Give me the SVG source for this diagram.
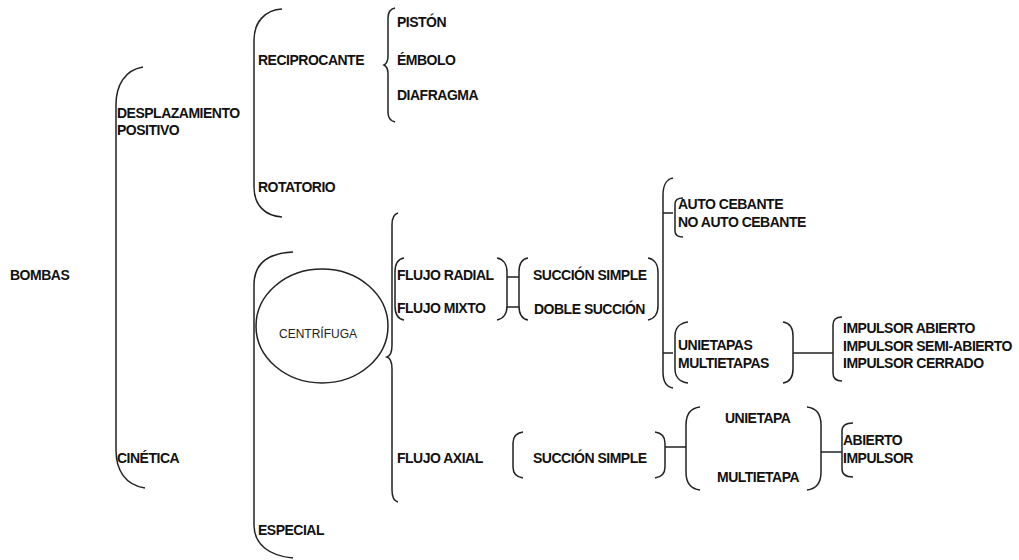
<svg xmlns="http://www.w3.org/2000/svg" width="1019" height="560" viewBox="0 0 1019 560">
<style>
text{font-family:"Liberation Sans",Arial,sans-serif;font-size:14px;font-weight:bold;letter-spacing:-0.5px;fill:#111}
.r{font-weight:normal;font-size:12px;letter-spacing:0;fill:#222}
.b{fill:none;stroke:#222;stroke-width:1.5}
</style>
<rect width="1019" height="560" fill="#fff"/>
<g id="bombas"><text x="10" y="280">BOMBAS</text></g>
<g id="brackets" class="b">
<path d="M143,67 C125,70 116,85 116,105 L116,450 C116,470 125,485 145,488"/>
<path d="M282,9 C265,10 254,22 254,40 L254,187 C254,205 265,216 282,217"/>
<path d="M395,8 C390,9 388,12 388,18 L388,56 C388,62 386,64 384,65 C386,66 388,68 388,74 L388,112 C388,118 390,121 395,122"/>
<path d="M293,252 C270,253 254,262 254,285 L254,525 C254,545 270,556 293,558"/>
<path d="M398,213 C394,214 392,218 392,225 L392,345 C392,352 390,356 387,357 C390,358 392,362 392,369 L392,490 C392,497 394,501 398,502"/>
<path d="M404,258 C398,259 395,264 395,272 L395,306 C395,314 398,319 404,320"/>
<path d="M497,258 C503,259 507,264 507,272 L507,306 C507,314 503,319 497,320"/>
<path d="M528,258 C522,259 519,264 519,272 L519,306 C519,314 522,319 528,320"/>
<path d="M648,258 C654,259 658,264 658,272 L658,306 C658,314 654,319 648,320"/>
<path d="M673,178 C667,179 663,185 663,195 L663,372 C663,382 667,387 673,388"/>
<path d="M683,198 C678,198 675,200 675,204 L675,231 C675,235 678,237 683,237"/>
<path d="M688,322 C680,323 675,328 675,336 L675,369 C675,377 680,382 688,383"/>
<path d="M783,322 C790,323 793,328 793,336 L793,369 C793,377 790,382 783,383"/>
<path d="M842,317 C836,317 833,320 833,325 L833,373 C833,378 836,381 842,381"/>
<path d="M523,432 C516,433 513,437 513,443 L513,467 C513,473 516,477 523,478"/>
<path d="M655,432 C662,433 665,437 665,443 L665,467 C665,473 662,477 655,478"/>
<path d="M700,407 C691,408 686,414 686,425 L686,472 C686,483 691,489 700,490"/>
<path d="M807,407 C816,408 821,414 821,425 L821,472 C821,483 816,489 807,490"/>
<path d="M853,423 C846,423 842,426 842,431 L842,469 C842,474 846,477 853,477"/>
</g>
<g id="connectors" class="b">
<path d="M507,277 H519 M507,307 H519"/>
<path d="M663,213 H673 M663,353 H673"/>
<path d="M793,353 H833"/>
<path d="M665,447 H686"/>
<path d="M821,452 H842"/>
</g>
<g id="desplazamiento"><text x="117" y="118">DESPLAZAMIENTO</text><text x="117" y="135">POSITIVO</text></g>
<g id="cinetica"><text x="117" y="463">CINÉTICA</text></g>
<g id="reciprocante"><text x="258" y="65">RECIPROCANTE</text></g>
<g id="rotatorio"><text x="258" y="192">ROTATORIO</text></g>
<g id="piston"><text x="397" y="27">PISTÓN</text></g>
<g id="embolo"><text x="397" y="65">ÉMBOLO</text></g>
<g id="diafragma"><text x="397" y="100">DIAFRAGMA</text></g>
<g id="centrifuga"><ellipse cx="322" cy="326" rx="66" ry="57" class="b"/><text class="r" x="279" y="338">CENTRÍFUGA</text></g>
<g id="especial"><text x="258" y="535">ESPECIAL</text></g>
<g id="flujo-radial"><text x="397" y="280">FLUJO RADIAL</text></g>
<g id="flujo-mixto"><text x="397" y="313">FLUJO MIXTO</text></g>
<g id="flujo-axial"><text x="397" y="463">FLUJO AXIAL</text></g>
<g id="succion-simple"><text x="533" y="280">SUCCIÓN SIMPLE</text></g>
<g id="doble-succion"><text x="534" y="314">DOBLE SUCCIÓN</text></g>
<g id="succion-simple-axial"><text x="533" y="463">SUCCIÓN SIMPLE</text></g>
<g id="auto-cebante"><text x="678" y="209">AUTO CEBANTE</text><text x="678" y="227">NO AUTO CEBANTE</text></g>
<g id="etapas"><text x="678" y="350">UNIETAPAS</text><text x="678" y="368">MULTIETAPAS</text></g>
<g id="impulsores"><text x="843" y="333">IMPULSOR ABIERTO</text><text x="843" y="351">IMPULSOR SEMI-ABIERTO</text><text x="843" y="368">IMPULSOR CERRADO</text></g>
<g id="unietapa"><text x="725" y="423">UNIETAPA</text></g>
<g id="multietapa"><text x="717" y="482">MULTIETAPA</text></g>
<g id="abierto-impulsor"><text x="843" y="445">ABIERTO</text><text x="843" y="463">IMPULSOR</text></g>
</svg>
